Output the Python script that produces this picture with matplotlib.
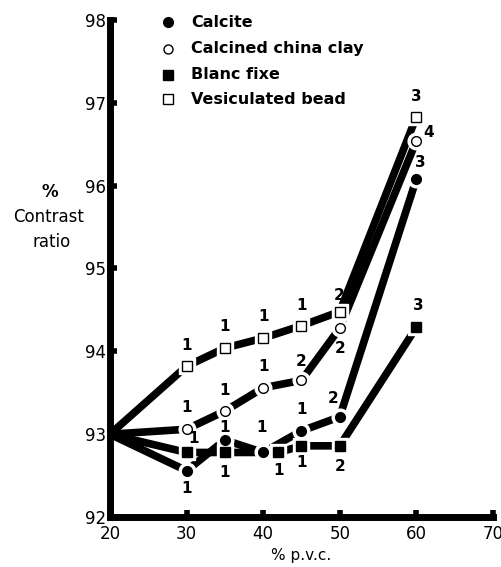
import matplotlib.pyplot as plt

plt.rcParams['font.family'] = ['DejaVu Sans']

# % p.v.c. and contrast ratio for each extender
calcite_x = [20, 30, 35, 40, 45, 50, 60]
calcite_y = [93.0, 92.56, 92.93, 92.78, 93.04, 93.21, 96.08]
calcite_n = [None, '1', '1', '1', '1', '2', '3']

clay_x = [20, 30, 35, 40, 45, 50, 60]
clay_y = [93.0, 93.06, 93.28, 93.56, 93.65, 94.28, 96.54]
clay_n = [None, '1', '1', '1', '2', '2', '4']

blanc_x = [20, 30, 35, 42, 45, 50, 60]
blanc_y = [93.0, 92.78, 92.78, 92.78, 92.86, 92.86, 94.29]
blanc_n = [None, '1', '1', '1', '1', '2', '3']

bead_x = [20, 30, 35, 40, 45, 50, 60]
bead_y = [93.0, 93.82, 94.04, 94.16, 94.31, 94.48, 96.83]
bead_n = [None, '1', '1', '1', '1', '2', '3']

# where each count sits relative to its point, in pixels
calcite_off = [None, (0, -18), (0, 13), (-2, 25), (0, 21), (-7, 18), (4, 16)]
clay_off = [None, (0, 22), (0, 21), (0, 21), (0, 19), (0, -20), (12, 8)]
blanc_off = [None, (7, 14), (0, -20), (0, -18), (0, -17), (0, -21), (2, 22)]
bead_off = [None, (0, 21), (0, 22), (0, 22), (0, 20), (-1, 16), (0, 20)]

series = [
    ('Calcite', calcite_x, calcite_y, calcite_n, calcite_off, 'o', 'black'),
    ('Calcined china clay', clay_x, clay_y, clay_n, clay_off, 'o', 'white'),
    ('Blanc fixe', blanc_x, blanc_y, blanc_n, blanc_off, 's', 'black'),
    ('Vesiculated bead', bead_x, bead_y, bead_n, bead_off, 's', 'white'),
]

fig = plt.figure(figsize=(5.02, 5.67), dpi=100)
ax = fig.add_axes([0.219, 0.088, 0.763, 0.877])

for name, xs, ys, ns, offs, m, face in series:
    ax.plot(xs, ys, color='black', lw=5.5, solid_capstyle='butt', zorder=2)

for name, xs, ys, ns, offs, m, face in series:
    ax.plot(xs[1:], ys[1:], ls='none', marker=m, ms=12, mfc='white', mec='white', zorder=3)
    ax.plot(xs[1:], ys[1:], ls='none', marker=m, ms=7, mfc=face, mec='black', mew=1.0, zorder=4)
    for x, y, n, off in zip(xs, ys, ns, offs):
        if n is None:
            continue
        ax.annotate(n, (x, y), xytext=off, textcoords='offset pixels',
                    ha='center', va='center', fontsize=11, fontweight='bold', zorder=5)

# legend drawn as plain markers and text
leg_y = [97.97, 97.65, 97.34, 97.04]
for (name, xs, ys, ns, offs, m, face), ly in zip(series, leg_y):
    ax.plot([27.6], [ly], ls='none', marker=m, ms=7 if face == 'black' else 6.5,
            mfc=face, mec='black', mew=1.0, clip_on=False)
    ax.text(30.6, ly, name, ha='left', va='center', fontsize=11.5, fontweight='bold')

ax.set_xlim(20, 70)
ax.set_ylim(92, 98)
ax.set_xticks([20, 30, 40, 50, 60, 70])
ax.set_yticks([92, 93, 94, 95, 96, 97, 98])

for side in ['top', 'right']:
    ax.spines[side].set_visible(False)
for side in ['left', 'bottom']:
    ax.spines[side].set_linewidth(5)
    ax.spines[side].set_capstyle('projecting')

ax.tick_params(direction='in', length=5, width=4, labelsize=12, pad=3)
ax.tick_params(axis='x', pad=6)

fig.text(50 / 502, 1 - 192 / 567, '%', ha='center', va='center', fontsize=12, fontweight='bold')
fig.text(49 / 502, 1 - 217 / 567, 'Contrast', ha='center', va='center', fontsize=12)
fig.text(52 / 502, 1 - 242 / 567, 'ratio', ha='center', va='center', fontsize=12)
ax.set_xlabel('% p.v.c.', fontsize=11, labelpad=3)

fig.savefig('out.png', dpi=100)
